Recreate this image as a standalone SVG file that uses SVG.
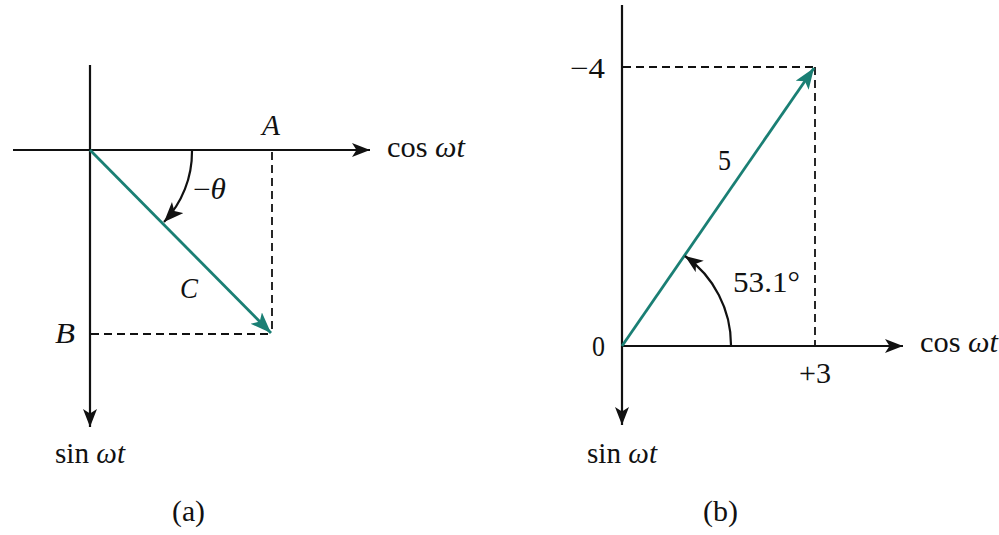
<svg xmlns="http://www.w3.org/2000/svg" width="999" height="535" viewBox="0 0 999 535">
<style>
.ax{stroke:#111;stroke-width:2.2;fill:none}
.dash{stroke:#111;stroke-width:1.8;fill:none;stroke-dasharray:8,5}
.vec{stroke:#1a7f74;stroke-width:2.8;fill:none}
.arc{stroke:#111;stroke-width:2.2;fill:none}
text{font-family:"Liberation Serif","Times New Roman",serif;font-size:29px;fill:#111}
.it{font-style:italic}
</style>
<defs>
<marker id="ah" markerUnits="userSpaceOnUse" markerWidth="22" markerHeight="16" refX="18" refY="7" orient="auto">
<path d="M0,0 L18,7 L0,14 L4.5,7 z" fill="#111"/>
</marker>
<marker id="aha" markerUnits="userSpaceOnUse" markerWidth="24" markerHeight="18" refX="20" refY="8" orient="auto">
<path d="M0,0 L20,8 L0,16 L5,8 z" fill="#111"/>
</marker>
<marker id="ahv" markerUnits="userSpaceOnUse" markerWidth="24" markerHeight="18" refX="21" refY="8" orient="auto">
<path d="M0,0 L21,8 L0,16 L5,8 z" fill="#1a7f74"/>
</marker>
</defs>
<rect width="999" height="535" fill="#fff"/>
<g id="connectors">
<line class="ax" x1="13" y1="150" x2="370" y2="150" marker-end="url(#ah)"/>
<line class="ax" x1="90" y1="65" x2="90" y2="427" marker-end="url(#ah)"/>
<line class="dash" x1="272" y1="152" x2="272" y2="334"/>
<line class="dash" x1="91" y1="334" x2="272" y2="334"/>
<line class="vec" x1="90" y1="150" x2="271" y2="333" marker-end="url(#ahv)"/>
<path class="arc" d="M192,151 A102,102 0 0 1 164,222" marker-end="url(#aha)"/>
<line class="ax" x1="622" y1="5" x2="622" y2="425" marker-end="url(#ah)"/>
<line class="ax" x1="622" y1="346" x2="903" y2="346" marker-end="url(#ah)"/>
<line class="dash" x1="623" y1="67" x2="815" y2="67"/>
<line class="dash" x1="815" y1="67" x2="815" y2="346"/>
<line class="vec" x1="622" y1="346" x2="814" y2="68" marker-end="url(#ahv)"/>
<path class="arc" d="M731,345 A109,109 0 0 0 685,256" marker-end="url(#ah)"/>
</g>
<g id="diagram-a">
<text id="label-A" class="it" x="262" y="135" textLength="18" lengthAdjust="spacingAndGlyphs">A</text>
<text id="label-cos-a" x="387" y="157" textLength="78" lengthAdjust="spacingAndGlyphs">cos <tspan class="it">ωt</tspan></text>
<text id="label-theta" x="193" y="199" textLength="33" lengthAdjust="spacingAndGlyphs">−<tspan class="it">θ</tspan></text>
<text id="label-C" class="it" x="180" y="298" textLength="18" lengthAdjust="spacingAndGlyphs">C</text>
<text id="label-B" class="it" x="55" y="343" textLength="20" lengthAdjust="spacingAndGlyphs">B</text>
<text id="label-sin-a" x="55" y="463" textLength="70" lengthAdjust="spacingAndGlyphs">sin <tspan class="it">ωt</tspan></text>
<text id="caption-a" x="172" y="521" textLength="33" lengthAdjust="spacingAndGlyphs">(a)</text>
</g>
<g id="diagram-b">
<text id="label-m4" x="570" y="78" textLength="35" lengthAdjust="spacingAndGlyphs">−4</text>
<text id="label-5" x="718" y="170" textLength="13" lengthAdjust="spacingAndGlyphs">5</text>
<text id="label-angle" x="733" y="292" textLength="67" lengthAdjust="spacingAndGlyphs">53.1°</text>
<text id="label-0" x="592" y="356" textLength="13" lengthAdjust="spacingAndGlyphs">0</text>
<text id="label-cos-b" x="920" y="352" textLength="78" lengthAdjust="spacingAndGlyphs">cos <tspan class="it">ωt</tspan></text>
<text id="label-p3" x="799" y="383" textLength="32" lengthAdjust="spacingAndGlyphs">+3</text>
<text id="label-sin-b" x="587" y="463" textLength="70" lengthAdjust="spacingAndGlyphs">sin <tspan class="it">ωt</tspan></text>
<text id="caption-b" x="703" y="521" textLength="35" lengthAdjust="spacingAndGlyphs">(b)</text>
</g>
</svg>
